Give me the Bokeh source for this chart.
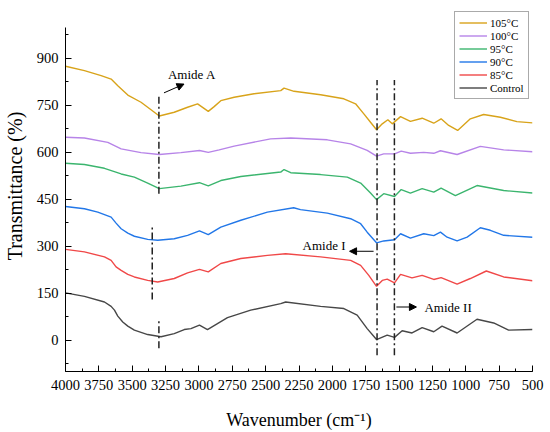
from bokeh.plotting import figure
from bokeh.models import (Range1d, SingleIntervalTicker, Legend, LegendItem,
                          Arrow, NormalHead, Label)
from bokeh.embed import file_html
from bokeh.resources import INLINE

# ---------------- data ----------------
series_names = ["105\u00b0C", "100\u00b0C", "95\u00b0C", "90\u00b0C", "85\u00b0C", "Control"]
series_colors = ["#D8A31A", "#B784E8", "#3BB56E", "#2277E8", "#F04848", "#474747"]

gold_wn = [4000, 3858, 3733, 3658, 3608, 3533, 3434, 3359, 3297, 3185, 3085, 3010, 2930, 2886, 2836,
           2736, 2587, 2387, 2362, 2287, 2088, 1914, 1826, 1764, 1714, 1669, 1626, 1584, 1551, 1489,
           1415, 1327, 1240, 1185, 1128, 1061, 966, 866, 741, 617, 500]
gold_t = [875, 861, 845, 834, 813, 783, 760, 736, 716, 728, 744, 755, 731, 746, 765,
          776, 787, 797, 805, 795, 784, 771, 755, 723, 696, 672, 691, 704, 691, 714,
          699, 709, 693, 707, 686, 670, 707, 721, 712, 698, 694]

purple_wn = [4000, 3858, 3683, 3583, 3434, 3297, 3135, 2996, 2930, 2848, 2736, 2463, 2312, 2038,
             1863, 1739, 1669, 1615, 1534, 1484, 1415, 1315, 1240, 1190, 1065, 891, 716, 500]
purple_t = [648, 646, 632, 611, 599, 593, 599, 606, 600, 608, 620, 643, 646, 640,
            627, 606, 588, 595, 595, 604, 597, 600, 597, 605, 593, 619, 608, 602]

green_wn = [4000, 3858, 3708, 3583, 3484, 3384, 3297, 3135, 2996, 2930, 2836, 2686, 2387, 2362,
            2312, 2088, 1888, 1788, 1714, 1669, 1615, 1534, 1484, 1415, 1327, 1240, 1185, 1078,
            916, 716, 500]
green_t = [565, 561, 549, 531, 521, 502, 484, 492, 503, 493, 510, 523, 537, 545,
           535, 529, 521, 502, 470, 449, 468, 459, 481, 470, 484, 473, 486, 462,
           494, 478, 470]

blue_wn = [4000, 3858, 3758, 3658, 3621, 3583, 3533, 3484, 3384, 3309, 3185, 3085, 2996, 2930,
           2836, 2686, 2487, 2290, 2239, 2038, 1863, 1788, 1739, 1669, 1615, 1534, 1489, 1415,
           1315, 1240, 1190, 1140, 1065, 990, 891, 816, 716, 500]
blue_t = [427, 420, 409, 393, 374, 356, 342, 332, 322, 319, 324, 335, 349, 337,
          361, 383, 409, 423, 417, 406, 388, 372, 345, 311, 317, 321, 340, 326,
          340, 334, 345, 329, 317, 329, 359, 351, 335, 329]

red_wn = [4000, 3858, 3708, 3658, 3621, 3583, 3533, 3484, 3384, 3309, 3185, 3085, 2996, 2930,
          2836, 2686, 2487, 2350, 2088, 1863, 1788, 1727, 1669, 1626, 1589, 1534, 1489, 1403,
          1327, 1240, 1185, 1065, 966, 846, 716, 500]
red_t = [290, 282, 266, 255, 234, 223, 210, 202, 191, 186, 197, 215, 226, 218,
         245, 261, 271, 276, 266, 255, 239, 207, 172, 191, 195, 183, 210, 199,
         207, 194, 200, 179, 197, 221, 202, 190]

ctrl_wn = [4000, 3858, 3708, 3658, 3633, 3608, 3571, 3533, 3484, 3384, 3284, 3185, 3110, 3060,
           2996, 2936, 2861, 2786, 2612, 2387, 2350, 2088, 1914, 1814, 1739, 1669, 1589, 1534,
           1477, 1403, 1327, 1240, 1178, 1065, 916, 791, 679, 500]
ctrl_t = [151, 140, 122, 108, 96, 77, 58, 45, 32, 18, 11, 21, 34, 37,
          48, 34, 53, 72, 96, 117, 122, 108, 101, 80, 37, 2, 16, 9,
          30, 23, 40, 27, 45, 23, 67, 55, 32, 34]

# dash-dot marker lines (wavenumber, lower, upper transmittance)
mark_wn = [3300, 3350, 3300, 1665, 1535]
mark_lo = [468, 130, -26, -48, -48]
mark_hi = [780, 361, 69, 831, 831]

# annotation texts
ann_text = ["Amide A", "Amide I", "Amide II"]
ann_x = [3232, 1901, 1310]
ann_y = [850, 302, 104]
ann_align = ["left", "right", "left"]
# arrows: (x_start, y_start, x_end, y_end)
arr_x0 = [3262, 1691, 1520]
arr_y0 = [790, 284, 106]
arr_x1 = [3112, 1871, 1370]
arr_y1 = [818, 284, 106]

x_ticks_interval = 250
y_ticks_interval = 150

SERIF = "Liberation Serif"

# ---------------- figure ----------------
p = figure(width=550, height=432, output_backend="svg", toolbar_location=None,
           x_range=Range1d(4000, 500), y_range=Range1d(-100, 1085),
           min_border_left=64, min_border_right=18, min_border_top=0, min_border_bottom=60,
           x_axis_label="Wavenumber (cm\u207b\u00b9)", y_axis_label="Transmittance (%)")
p.background_fill_color = "white"
p.border_fill_color = "white"
p.outline_line_color = None
p.grid.visible = False

series = [(gold_wn, gold_t), (purple_wn, purple_t), (green_wn, green_t),
          (blue_wn, blue_t), (red_wn, red_t), (ctrl_wn, ctrl_t)]
renderers = []
for (wx, ty), col in zip(series, series_colors):
    r = p.line(wx, ty, line_color=col, line_width=1.4)
    renderers.append(r)

p.segment(x0=mark_wn, y0=mark_lo, x1=mark_wn, y1=mark_hi,
          line_color="#222222", line_width=1.5, line_dash="7 3 2 3")

for t, x, y, a in zip(ann_text, ann_x, ann_y, ann_align):
    p.add_layout(Label(x=x, y=y, text=t, text_align=a, text_baseline="middle",
                       text_font=SERIF, text_font_size="13px", text_color="black"))
for x0, y0, x1, y1 in zip(arr_x0, arr_y0, arr_x1, arr_y1):
    p.add_layout(Arrow(x_start=x0, y_start=y0, x_end=x1, y_end=y1, line_width=1,
                       line_color="black",
                       end=NormalHead(size=7, fill_color="black", line_color="black")))

# axes
p.xaxis.ticker = SingleIntervalTicker(interval=x_ticks_interval, num_minor_ticks=2)
p.yaxis.ticker = SingleIntervalTicker(interval=y_ticks_interval, num_minor_ticks=2)
p.yaxis.bounds = (-100, 1000)
for ax in (p.xaxis[0], p.yaxis[0]):
    ax.axis_line_color = "black"
    ax.axis_line_width = 1
    ax.major_tick_line_color = "black"
    ax.minor_tick_line_color = "black"
    ax.major_tick_in = 6
    ax.major_tick_out = 0
    ax.minor_tick_in = 3
    ax.minor_tick_out = 0
    ax.major_label_text_font = SERIF
    ax.major_label_text_font_size = "14.5px"
    ax.major_label_text_color = "black"
    ax.axis_label_text_font = SERIF
    ax.axis_label_text_font_style = "normal"
    ax.axis_label_text_color = "black"
p.xaxis.axis_label_text_font_size = "18px"
p.yaxis.axis_label_text_font_size = "20px"
p.xaxis.major_label_standoff = 8
p.xaxis.axis_label_standoff = 17
p.yaxis.major_label_standoff = 7
p.yaxis.axis_label_standoff = 8

legend = Legend(items=[LegendItem(label=n, renderers=[r]) for n, r in zip(series_names, renderers)],
                location=(389, 272), margin=0, padding=4, spacing=0,
                glyph_width=28, glyph_height=13, label_height=13, label_standoff=3,
                label_text_font=SERIF, label_text_font_size="11px", label_text_color="black",
                border_line_color="#555555", border_line_width=1,
                background_fill_color="white", background_fill_alpha=1)
p.add_layout(legend, "center")

open("out.html", "w").write(file_html(p, INLINE))
